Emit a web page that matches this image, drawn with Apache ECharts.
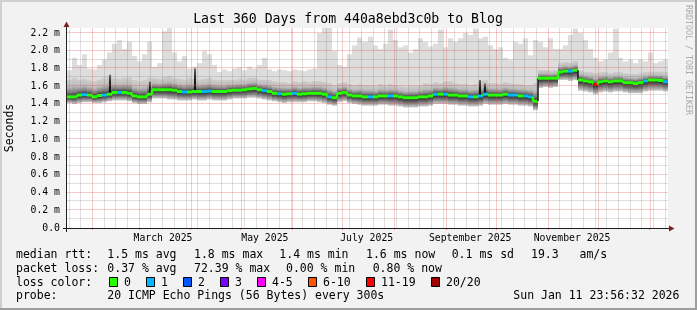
<!DOCTYPE html>
<html><head><meta charset="utf-8">
<script src="https://cdn.jsdelivr.net/npm/echarts@6/dist/echarts.min.js"></script>
<style>html,body{margin:0;padding:0;background:#F2F2F2}#c{width:697px;height:310px}</style>
</head><body><div id="c"></div>
<script>
// ---------------- data ----------------
const startTime = new Date(2025, 0, 16, 23, 56, 32).getTime();
const endTime = new Date(2026, 0, 11, 23, 56, 32).getTime();
const binDays = 3; // each value below covers 3 days

// median rtt (ms) per bin
const median = [
 1.48,1.48,1.50,1.505,1.50,1.48,1.495,1.50,1.51,1.53,
 1.53,1.53,1.52,1.49,1.48,1.48,1.51,1.56,1.56,1.56,
 1.56,1.555,1.54,1.535,1.535,1.54,1.54,1.54,1.545,1.54,
 1.54,1.54,1.55,1.555,1.555,1.56,1.57,1.575,1.56,1.55,
 1.54,1.52,1.515,1.51,1.515,1.52,1.51,1.515,1.52,1.52,
 1.52,1.51,1.48,1.47,1.52,1.53,1.50,1.49,1.49,1.48,
 1.48,1.48,1.49,1.49,1.49,1.49,1.48,1.47,1.47,1.47,
 1.48,1.48,1.49,1.51,1.51,1.51,1.50,1.50,1.49,1.49,
 1.48,1.48,1.49,1.51,1.50,1.50,1.50,1.51,1.50,1.50,
 1.49,1.49,1.48,1.43,1.69,1.69,1.69,1.69,1.76,1.77,
 1.77,1.78,1.67,1.66,1.65,1.62,1.65,1.66,1.65,1.66,
 1.66,1.64,1.64,1.63,1.64,1.66,1.67,1.67,1.665,1.65];

// lost pings (of 20) per bin
const lossPings = [
 0,0,0,1,0,0,0,1,0,0,
 1,0,0,0,0,0,0,0,0,0,
 0,0,0,1,0,0,0,1,1,0,
 0,0,0,0,0,0,0,0,0,1,
 0,0,1,0,0,1,0,0,0,0,
 0,0,1,0,0,0,0,0,0,0,
 1,0,0,0,1,0,0,0,0,0,
 0,0,0,1,0,1,0,0,0,0,
 1,0,1,1,0,0,0,0,1,1,
 0,1,1,0,0,0,0,0,0,0,
 1,0,0,0,0,12,0,0,0,0,
 0,0,0,0,0,1,0,0,0,1];

// highest ping per bin (light smoke top)
const smokeMax = [
 1.78,1.92,1.84,1.96,1.80,1.79,1.84,1.90,1.98,2.08,
 2.12,2.02,2.10,1.94,1.88,1.96,2.10,1.82,1.86,2.22,
 2.26,1.98,1.88,1.94,1.80,1.82,1.86,2.00,1.96,1.84,
 1.76,1.79,1.77,1.80,1.81,1.78,1.82,1.80,1.84,1.92,
 1.79,1.77,1.79,1.78,1.77,1.79,1.78,1.77,1.79,1.80,
 2.20,2.26,2.26,2.00,1.84,1.82,1.96,2.06,2.15,2.10,
 2.16,2.06,2.02,2.08,2.24,2.12,2.04,2.06,1.98,2.02,
 2.14,2.10,2.05,2.08,2.24,2.04,2.14,2.10,2.14,2.20,
 2.18,2.25,2.14,2.16,2.06,2.02,2.04,1.92,1.90,2.10,
 2.08,2.14,1.95,2.12,2.10,2.04,2.14,2.02,2.02,2.06,
 2.18,2.25,2.20,2.12,2.02,1.92,1.88,1.90,1.98,2.25,
 1.92,1.88,1.90,1.86,1.90,1.88,1.98,1.86,1.88,1.90];

// upper edge of the dense smoke
const smokeHi = [
 1.68,1.70,1.68,1.69,1.67,1.66,1.68,1.70,1.72,1.70,
 1.69,1.70,1.71,1.67,1.66,1.67,1.70,1.70,1.69,1.71,
 1.72,1.70,1.69,1.68,1.70,1.69,1.68,1.69,1.70,1.68,
 1.67,1.67,1.68,1.68,1.69,1.68,1.70,1.70,1.68,1.68,
 1.67,1.66,1.65,1.65,1.64,1.66,1.65,1.66,1.65,1.66,
 1.66,1.65,1.64,1.62,1.64,1.65,1.63,1.62,1.63,1.62,
 1.62,1.61,1.63,1.62,1.63,1.62,1.61,1.60,1.61,1.61,
 1.62,1.64,1.63,1.65,1.64,1.66,1.66,1.64,1.63,1.63,
 1.62,1.63,1.66,1.67,1.64,1.64,1.63,1.65,1.64,1.63,
 1.63,1.62,1.62,1.64,1.79,1.79,1.78,1.79,1.87,1.88,
 1.87,1.89,1.78,1.77,1.76,1.75,1.76,1.76,1.75,1.76,
 1.76,1.75,1.74,1.74,1.75,1.76,1.77,1.77,1.77,1.76];

// lower edge of the dense smoke
const smokeLo = [
 1.41,1.40,1.41,1.42,1.42,1.41,1.41,1.42,1.43,1.44,
 1.44,1.44,1.43,1.41,1.40,1.40,1.42,1.46,1.46,1.46,
 1.45,1.45,1.44,1.44,1.44,1.45,1.44,1.44,1.45,1.44,
 1.44,1.44,1.45,1.46,1.46,1.46,1.47,1.47,1.46,1.45,
 1.44,1.43,1.42,1.41,1.42,1.42,1.42,1.42,1.43,1.43,
 1.42,1.41,1.39,1.38,1.42,1.43,1.41,1.40,1.39,1.38,
 1.38,1.38,1.39,1.39,1.38,1.38,1.37,1.36,1.36,1.36,
 1.37,1.37,1.38,1.40,1.40,1.40,1.39,1.39,1.38,1.38,
 1.37,1.37,1.38,1.40,1.39,1.39,1.39,1.40,1.39,1.39,
 1.38,1.38,1.37,1.33,1.58,1.59,1.58,1.59,1.67,1.67,
 1.66,1.67,1.55,1.54,1.53,1.51,1.53,1.54,1.53,1.54,
 1.54,1.53,1.52,1.52,1.52,1.54,1.55,1.55,1.55,1.54];

// dark smoke spikes: bin index and top value (ms)
const spikeBin = [8, 16, 25, 82, 83];
const spikeTop = [1.73, 1.65, 1.80, 1.67, 1.63];

// axis ticks
const yTicks = [0, 0.2, 0.4, 0.6, 0.8, 1.0, 1.2, 1.4, 1.6, 1.8, 2.0, 2.2];
const yMinorTicks = [0.1, 0.3, 0.5, 0.7, 0.9, 1.1, 1.3, 1.5, 1.7, 1.9, 2.1];
const xLabelDates = [[2025,3,15],[2025,5,15],[2025,7,15],[2025,9,15],[2025,11,15]];
const xLabelTexts = ['March 2025','May 2025','July 2025','September 2025','November 2025'];

// legend
const lossLimits = [0, 1, 2, 3, 5, 10, 19, 20];
const lossColors = ['#26ff00','#00b8ff','#0059ff','#7e00ff','#ff00ff','#ff5500','#ff0000','#a10000'];
const lossLabels = ['0','1','2','3','4-5','6-10','11-19','20/20'];
const titleText = 'Last 360 Days from 440a8ebd3c0b to Blog';
const rttStats = ['1.5 ms avg','1.8 ms max','1.4 ms min','1.6 ms now','0.1 ms sd','19.3   am/s'];
const lossStats = ['0.37 % avg','72.39 % max','0.00 % min','0.80 % now'];
const probeText = '20 ICMP Echo Pings (56 Bytes) every 300s';
const dateText = 'Sun Jan 11 23:56:32 2026';

// ---------------- layout / style ----------------
const DAY = 86400000;
const MONO = '"DejaVu Sans Mono", monospace';
const GRID_MINOR = 'rgba(110,110,110,0.22)';
const GRID_MAJOR = 'rgba(222,79,79,0.3)';
const G = {left: 67, top: 28, width: 601, height: 200};
const Y_MAX = 2.257;

const monthStarts = [];
for (let m = 1; m <= 12; m++) monthStarts.push(new Date(2025, m, 1).getTime());
const weekLines = [];
for (let d = new Date(2025, 0, 18); d.getTime() < endTime; d = new Date(d.getFullYear(), d.getMonth(), d.getDate() + 7)) {
  if (monthStarts.indexOf(d.getTime()) < 0) weekLines.push(d.getTime());
}
const labelTimes = xLabelDates.map(a => new Date(a[0], a[1] - 1, a[2], 12).getTime());

function lossColor(n) {
  for (let k = 0; k < lossLimits.length; k++) if (n <= lossLimits[k]) return lossColors[k];
  return lossColors[lossColors.length - 1];
}

const binData = median.map((m, i) => [
  startTime + i * binDays * DAY, startTime + (i + 1) * binDays * DAY,
  smokeLo[i], smokeHi[i], smokeMax[i], m, lossPings[i], i > 0 ? median[i - 1] : m, i
]);
const spikeData = spikeBin.map((b, k) => [
  startTime + b * binDays * DAY, startTime + (b + 1) * binDays * DAY, median[b], spikeTop[k]
]);

function renderSmoke(params, api) {
  const x0 = Math.round(api.coord([api.value(0), 0])[0]);
  const x1 = Math.round(api.coord([api.value(1), 0])[0]);
  const yLo = api.coord([api.value(0), api.value(2)])[1];
  const yHi = api.coord([api.value(0), api.value(3)])[1];
  const yMax = api.coord([api.value(0), api.value(4)])[1];
  const yMed = api.coord([api.value(0), api.value(5)])[1];
  const f = Math.min(0.95, Math.max(0.05, (yMed - yHi) / (yLo - yHi)));
  const g = 1 - f;
  const grad = new echarts.graphic.LinearGradient(0, 0, 0, 1, [
    {offset: 0, color: '#cfcfcf'},
    {offset: f * 0.45, color: '#bcbcbc'},
    {offset: f * 0.75, color: '#7c7c7c'},
    {offset: f * 0.9, color: '#444444'},
    {offset: f, color: '#262626'},
    {offset: f + g * 0.18, color: '#383838'},
    {offset: f + g * 0.45, color: '#6a6a6a'},
    {offset: f + g * 0.75, color: '#a4a4a4'},
    {offset: 1, color: '#cdcdcd'}
  ]);
  return {type: 'group', children: [
    {type: 'rect', shape: {x: x0, y: yMax, width: x1 - x0, height: yHi - yMax}, style: {fill: '#dddddd'}},
    {type: 'rect', shape: {x: x0, y: yHi, width: x1 - x0, height: yLo - yHi}, style: {fill: grad}}
  ]};
}

function renderSpike(params, api) {
  const x0 = api.coord([api.value(0), 0])[0];
  const x1 = api.coord([api.value(1), 0])[0];
  const xc = Math.round((x0 + x1) / 2) - 1;
  const yB = api.coord([api.value(0), api.value(2)])[1];
  const yT = api.coord([api.value(0), api.value(3)])[1];
  return {type: 'rect', shape: {x: xc, y: yT, width: 2, height: yB - yT},
    style: {fill: new echarts.graphic.LinearGradient(0, 0, 0, 1, [
      {offset: 0, color: '#6a6a6a'}, {offset: 0.4, color: '#222222'}, {offset: 1, color: '#0a0a0a'}])}};
}

function renderMedian(params, api) {
  const x0 = Math.round(api.coord([api.value(0), 0])[0]);
  const x1 = Math.round(api.coord([api.value(1), 0])[0]);
  const m = api.value(5), prev = api.value(7);
  const yMed = api.coord([api.value(0), m])[1];
  const yPrev = api.coord([api.value(0), prev])[1];
  const col = lossColor(api.value(6));
  const children = [];
  if (api.value(8) > 0 && Math.abs(m - prev) > 0.001) {
    const big = Math.abs(m - prev) > 0.08;
    children.push({type: 'line', shape: {x1: x0, y1: yPrev, x2: x0, y2: yMed},
      style: {stroke: big ? '#1a1a1a' : lossColor(0), lineWidth: big ? 1.5 : 2.4}});
  }
  children.push({type: 'rect', shape: {x: x0, y: yMed - 1.5, width: x1 - x0, height: 3}, style: {fill: col}});
  return {type: 'group', children};
}

// ---------------- graphics (frame, texts, legend) ----------------
const graphics = [
  {type: 'rect', z: 10, shape: {x: 0, y: 0, width: 697, height: 2}, style: {fill: '#CFCFCF'}},
  {type: 'rect', z: 10, shape: {x: 0, y: 0, width: 2, height: 310}, style: {fill: '#CFCFCF'}},
  {type: 'rect', z: 10, shape: {x: 0, y: 308, width: 697, height: 2}, style: {fill: '#9E9E9E'}},
  {type: 'rect', z: 10, shape: {x: 695, y: 0, width: 2, height: 310}, style: {fill: '#9E9E9E'}},
  // axes
  {type: 'line', z: 20, shape: {x1: 63, y1: 228.5, x2: 671, y2: 228.5}, style: {stroke: '#1F1F1F', lineWidth: 1}},
  {type: 'line', z: 20, shape: {x1: 66.5, y1: 232, x2: 66.5, y2: 25}, style: {stroke: '#1F1F1F', lineWidth: 1}},
  {type: 'polygon', z: 21, shape: {points: [[63.5, 27], [69.5, 27], [66.5, 21.5]]}, style: {fill: '#801F1F'}},
  {type: 'polygon', z: 21, shape: {points: [[669, 225.5], [669, 231.5], [674.5, 228.5]]}, style: {fill: '#801F1F'}},
  // texts
  {type: 'text', z: 20, x: 348, y: 19.3, style: {text: titleText, font: '13.2px ' + MONO, fill: '#000',
    align: 'center', verticalAlign: 'middle', textAlign: 'center', textVerticalAlign: 'middle'}},
  {type: 'text', z: 20, x: 10.5, y: 128, rotation: Math.PI / 2, style: {text: 'Seconds', font: '11.5px ' + MONO, fill: '#000',
    align: 'center', verticalAlign: 'middle', textAlign: 'center', textVerticalAlign: 'middle'}},
  {type: 'text', z: 20, x: 688, y: 60, rotation: -Math.PI / 2, style: {text: 'RRDTOOL / TOBI OETIKER', font: '8.3px ' + MONO, fill: '#ababab',
    align: 'center', verticalAlign: 'middle', textAlign: 'center', textVerticalAlign: 'middle'}}
];
function legendText(str, x, y) {
  graphics.push({type: 'text', z: 20, x: x, y: y, style: {text: str, font: '11.5px ' + MONO, fill: '#000',
    align: 'left', verticalAlign: 'middle', textAlign: 'left', textVerticalAlign: 'middle'}});
}
const rowY = [254.9, 268.6, 282.6, 296.3];
const rttX = [107.3, 194, 279.3, 366, 451.7, 531];
const lossX = [107.3, 194, 286, 372.7];
legendText('median rtt:', 16, rowY[0]);
rttStats.forEach((s, k) => legendText(s, rttX[k], rowY[0]));
legendText('packet loss:', 16, rowY[1]);
lossStats.forEach((s, k) => legendText(s, lossX[k], rowY[1]));
legendText('loss color:', 16, rowY[2]);
let bx = 108.7;
lossLabels.forEach((lab, k) => {
  graphics.push({type: 'rect', z: 20, shape: {x: Math.round(bx) + 0.5, y: 277.5, width: 8, height: 9},
    style: {fill: lossColors[k], stroke: '#000', lineWidth: 1}});
  legendText(lab, bx + 15.3, rowY[2]);
  bx += 30 + 7 * lab.length;
});
legendText('probe:', 16, rowY[3]);
legendText(probeText, 107.3, rowY[3]);
legendText(dateText, 513.3, rowY[3]);

// ---------------- chart ----------------
const chart = echarts.init(document.getElementById('c'), null, {renderer: 'canvas', width: 697, height: 310});
chart.setOption({
  animation: false,
  backgroundColor: '#F2F2F2',
  grid: {left: G.left, top: G.top, width: G.width, height: G.height, show: true, backgroundColor: '#ffffff', borderWidth: 0},
  xAxis: {type: 'value', min: startTime, max: endTime, position: 'bottom', z: 4,
    axisLine: {show: false},
    axisTick: {show: true, length: 2, customValues: monthStarts, lineStyle: {color: 'rgba(222,79,79,0.6)'}},
    axisLabel: {show: true, customValues: labelTimes, margin: 5, color: '#000', fontFamily: MONO, fontSize: 9.8,
      hideOverlap: false, formatter: (v) => {
        let k = -1, best = Infinity;
        labelTimes.forEach((t, j) => { const d = Math.abs(t - v); if (d < best) { best = d; k = j; } });
        return xLabelTexts[k];
      }},
    splitLine: {show: false}},
  yAxis: {type: 'value', min: 0, max: Y_MAX, position: 'left', z: 4,
    axisLine: {show: false},
    axisTick: {show: false, customValues: yTicks},
    axisLabel: {show: true, customValues: yTicks, margin: 7, color: '#000', fontFamily: MONO, fontSize: 9.8,
      formatter: v => (Math.abs(v) < 1e-9 ? '0.0' : v.toFixed(1) + ' m')},
    splitLine: {show: false}},
  series: [
    {type: 'custom', name: 'smoke', z: 2, clip: true,
      renderItem: renderSmoke, encode: {x: [0, 1], y: [2, 4]}, data: binData},
    {type: 'custom', name: 'spikes', z: 2, clip: true,
      renderItem: renderSpike, encode: {x: [0, 1], y: [2, 3]}, data: spikeData},
    {type: 'custom', name: 'median', z: 5, clip: true,
      renderItem: renderMedian, encode: {x: [0, 1], y: [5]}, data: binData}
  ]
});

// grid lines placed through the chart's own scales
const toPx = (x, y) => chart.convertToPixel({gridIndex: 0}, [x, y]);
const pTop = toPx(startTime, Y_MAX)[1];
const pBottom = toPx(startTime, 0)[1];
const pLeft = toPx(startTime, 0)[0];
const pRight = toPx(endTime, 0)[0];
function vLine(t, color, z) {
  const x = Math.round(toPx(t, 0)[0]) + 0.5;
  graphics.push({type: 'line', z: z, silent: true, shape: {x1: x, y1: pTop, x2: x, y2: pBottom},
    style: {stroke: color, lineWidth: 1}});
}
function hLine(v, color, z) {
  const y = Math.round(toPx(startTime, v)[1]) - 0.5;
  graphics.push({type: 'line', z: z, silent: true, shape: {x1: pLeft, y1: y, x2: pRight, y2: y},
    style: {stroke: color, lineWidth: 1}});
}
weekLines.forEach(t => vLine(t, GRID_MINOR, 3));
yMinorTicks.forEach(v => hLine(v, GRID_MINOR, 3));
monthStarts.forEach(t => vLine(t, GRID_MAJOR, 4));
yTicks.filter(v => v > 0).forEach(v => hLine(v, GRID_MAJOR, 4));
chart.setOption({graphic: {elements: graphics}});
</script>
</body></html>
